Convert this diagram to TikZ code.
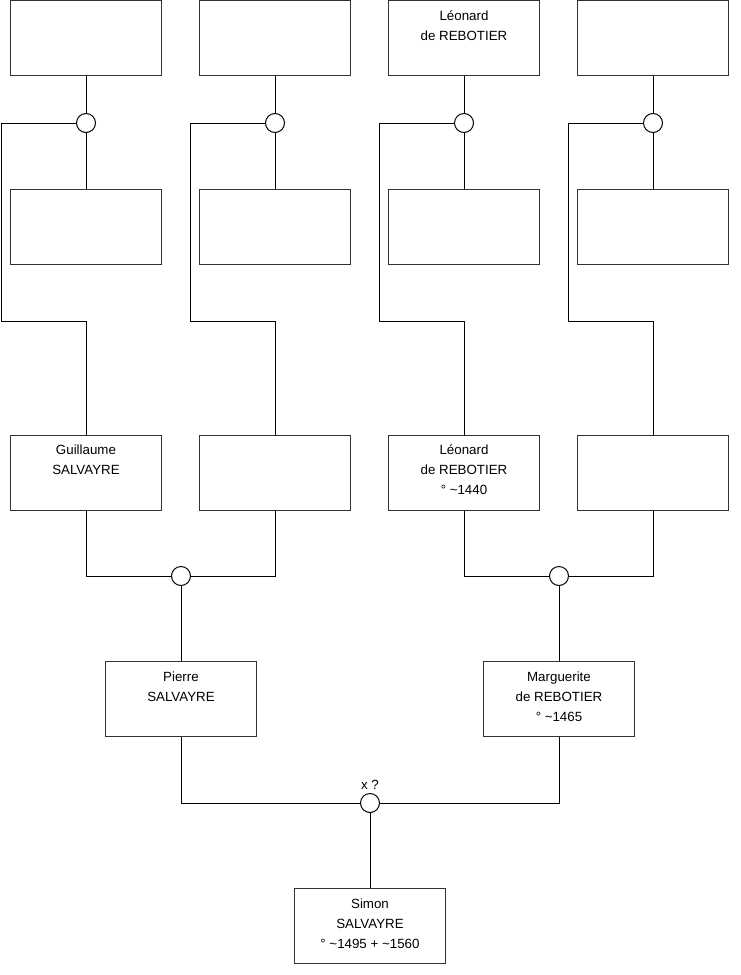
\documentclass[tikz,border=0pt]{standalone}
\usepackage{fontspec}
\setmainfont{Liberation Sans}
\usetikzlibrary{calc}
\begin{document}
\begin{tikzpicture}[x=0.75pt,y=-0.75pt,
  person/.style={draw=black!80,line width=0.75pt,minimum width=113.25pt,minimum height=56.25pt,inner sep=0pt,fill=white},
  union/.style={circle,draw=black,line width=0.75pt,minimum size=14.25pt,inner sep=0pt,fill=white},
  link/.style={draw=black,line width=0.75pt},
  txt/.style={anchor=base,inner sep=0pt,font=\fontsize{10}{12}\selectfont}]
\useasboundingbox[fill=white] (0,0) rectangle (740,975);
% row 1
\node[person] (p11) at (86,38) {};
\node[person] (p12) at (275,38) {};
\node[person] (p13) at (464,38) {};
\node[person] (p14) at (653,38) {};
% unions row 1
\node[union] (c11) at (86,123) {};
\node[union] (c12) at (275,123) {};
\node[union] (c13) at (464,123) {};
\node[union] (c14) at (653,123) {};
% row 2
\node[person] (p21) at (86,227.25) {};
\node[person] (p22) at (275,227.25) {};
\node[person] (p23) at (464,227.25) {};
\node[person] (p24) at (653,227.25) {};
% row 3
\node[person] (p31) at (86,472.75) {};
\node[person] (p32) at (275,472.75) {};
\node[person] (p33) at (464,472.75) {};
\node[person] (p34) at (653,472.75) {};
% unions row 3
\node[union] (c21) at (181,576) {};
\node[union] (c22) at (559,576) {};
% row 4
\node[person] (p41) at (181,699.25) {};
\node[person] (p42) at (559,699.25) {};
% union bottom
\node[union] (c3) at (370,803) {};
\node[txt] (c3l) at (370,789) {x ?};
% row 5
\node[person] (p5) at (370,925.75) {};

% coordinates for elbows
\coordinate (k11a) at (1.5,123);  \coordinate (k11b) at (1.5,321.5);  \coordinate (k11c) at (86,321.5);
\coordinate (k12a) at (190.5,123); \coordinate (k12b) at (190.5,321.5); \coordinate (k12c) at (275,321.5);
\coordinate (k13a) at (379,123);  \coordinate (k13b) at (379,321.5);  \coordinate (k13c) at (464,321.5);
\coordinate (k14a) at (568.5,123); \coordinate (k14b) at (568.5,321.5); \coordinate (k14c) at (653,321.5);
\coordinate (k21a) at (86,576); \coordinate (k21b) at (275,576);
\coordinate (k22a) at (464,576); \coordinate (k22b) at (653,576);
\coordinate (k3a) at (181,803); \coordinate (k3b) at (559,803);

% links
\draw[link] (p11.south) -- (c11.north); \draw[link] (c11.south) -- (p21.north);
\draw[link] (p12.south) -- (c12.north); \draw[link] (c12.south) -- (p22.north);
\draw[link] (p13.south) -- (c13.north); \draw[link] (c13.south) -- (p23.north);
\draw[link] (p14.south) -- (c14.north); \draw[link] (c14.south) -- (p24.north);
\draw[link] (c11.west) -- (k11a) -- (k11b) -- (k11c) -- (p31.north);
\draw[link] (c12.west) -- (k12a) -- (k12b) -- (k12c) -- (p32.north);
\draw[link] (c13.west) -- (k13a) -- (k13b) -- (k13c) -- (p33.north);
\draw[link] (c14.west) -- (k14a) -- (k14b) -- (k14c) -- (p34.north);
\draw[link] (p31.south) -- (k21a) -- (c21.west);
\draw[link] (p32.south) -- (k21b) -- (c21.east);
\draw[link] (c21.south) -- (p41.north);
\draw[link] (p33.south) -- (k22a) -- (c22.west);
\draw[link] (p34.south) -- (k22b) -- (c22.east);
\draw[link] (c22.south) -- (p42.north);
\draw[link] (p41.south) -- (k3a) -- (c3.west);
\draw[link] (p42.south) -- (k3b) -- (c3.east);
\draw[link] (c3.south) -- (p5.north);

% texts
\node[txt] (p13a) at ($(p13.north)+(0,20)$) {Léonard};
\node[txt] (p13b) at ($(p13.north)+(0,40)$) {de REBOTIER};
\node[txt] (p31a) at ($(p31.north)+(0,20)$) {Guillaume};
\node[txt] (p31b) at ($(p31.north)+(0,40)$) {SALVAYRE};
\node[txt] (p33a) at ($(p33.north)+(0,20)$) {Léonard};
\node[txt] (p33b) at ($(p33.north)+(0,40)$) {de REBOTIER};
\node[txt] (p33c) at ($(p33.north)+(0,60)$) {° \textasciitilde1440};
\node[txt] (p41a) at ($(p41.north)+(0,20)$) {Pierre};
\node[txt] (p41b) at ($(p41.north)+(0,40)$) {SALVAYRE};
\node[txt] (p42a) at ($(p42.north)+(0,20)$) {Marguerite};
\node[txt] (p42b) at ($(p42.north)+(0,40)$) {de REBOTIER};
\node[txt] (p42c) at ($(p42.north)+(0,60)$) {° \textasciitilde1465};
\node[txt] (p5a) at ($(p5.north)+(0,21)$) {Simon};
\node[txt] (p5b) at ($(p5.north)+(0,41)$) {SALVAYRE};
\node[txt] (p5c) at ($(p5.north)+(0,61)$) {° \textasciitilde1495 + \textasciitilde1560};
\end{tikzpicture}
\end{document}
